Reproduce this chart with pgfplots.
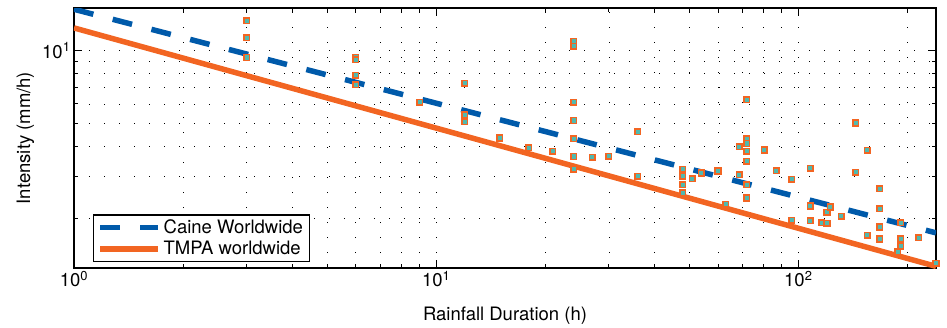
\documentclass[border=0pt]{standalone}
\usepackage{fontspec}
\setmainfont{TeX Gyre Heros}
\usepackage{pgfplots}
\pgfplotsset{compat=1.18}
\definecolor{cblue}{RGB}{0,90,170}
\definecolor{corange}{RGB}{242,101,34}
\definecolor{cteal}{RGB}{80,185,175}
\newcommand{\fs}{\fontsize{18.5}{22}\selectfont}
\begin{document}
\begin{tikzpicture}[font=\fs]
\begin{axis}[
  at={(0,0)}, anchor=south west,
  scale only axis, width=862pt, height=260pt,
  xmode=log, ymode=log,
  xmin=1, xmax=240, ymin=1.25, ymax=15,
  xtick={1,10,100},
  xticklabels={10\textsuperscript{0},10\textsuperscript{1},10\textsuperscript{2}},
  ytick={10}, yticklabels={10\textsuperscript{1}},
  minor xtick={2,3,4,5,6,7,8,9,20,30,40,50,60,70,80,90,200},
  minor ytick={2,3,4,5,6,7,8,9},
  tick align=inside, major tick length=8pt, minor tick length=4pt,
  axis line style={line width=1.4pt, black},
  every tick/.style={black, line width=0.9pt},
  grid=both,
  major grid style={black, line width=0.7pt, dash pattern=on 0.7pt off 14.3pt},
  minor grid style={black, line width=0.7pt, dash pattern=on 0.7pt off 14.3pt},
  tick label style={font=\fs},
  xlabel={Rainfall Duration (h)}, ylabel={Intensity (mm/h)},
  xlabel style={font=\fs, at={(axis description cs:0.5,-0.2038)}, anchor=base},
  ylabel style={font=\fs, at={(axis description cs:-0.05104,0.5)}, anchor=base},
  legend style={font=\fs, at={(axis description cs:0.022,0.023)}, anchor=south west,
    draw=black, line width=1.4pt, fill=white, inner xsep=4pt, inner ysep=2pt,
    nodes={inner xsep=2.5pt, inner ysep=3pt}, row sep=0pt},
  legend cell align=left,
  legend image code/.code={\draw[#1] (0pt,0pt) -- (58pt,0pt);},
  clip mode=individual,
]
\addplot[cblue, line width=5.5pt, dash pattern=on 20pt off 20pt] coordinates {(1,14.82) (240,1.749)};
\addlegendentry{Caine Worldwide}
\addplot[corange, line width=5.5pt] coordinates {(1,12.4) (240,1.27)};
\addlegendentry{TMPA worldwide}
\addplot[only marks, mark=square*, mark size=2.8pt,
  mark options={draw=corange, fill=cteal, line width=1.5pt}, forget plot] table {
x y
3 13.3
3 11.3
3 9.35
6 9.35
6 9.15
6 7.9
6 7.2
9 6.1
12 7.3
12 5.4
12 5.05
15 4.33
18 3.95
21 3.82
24 10.9
24 10.4
24 6.1
24 5.12
24 4.3
24 3.63
24 3.21
27 3.6
30 3.64
36 4.6
36 3.0
48 3.21
48 3.0
48 2.77
48 2.57
51 2.93
54 3.1
60 3.16
63 2.30
68.7 3.98
68.7 3.05
72 6.25
72 4.30
72 4.11
72 3.82
72 3.47
72 2.77
72 2.44
80.5 3.86
87 3.17
96 2.92
96 1.97
108 3.24
108 2.26
108 1.96
116 1.93
120 2.13
120 1.92
122.5 2.24
131.5 2.05
144 5.0
144 3.12
155 3.85
155 1.71
168 2.67
168 2.2
168 1.85
168 1.65
188 1.46
192 1.93
192 1.65
192 1.54
215 1.67
240 1.31
};
\end{axis}
\pgfresetboundingbox
\path (-74pt,-59pt) rectangle (873pt,268pt);
\end{tikzpicture}
\end{document}
